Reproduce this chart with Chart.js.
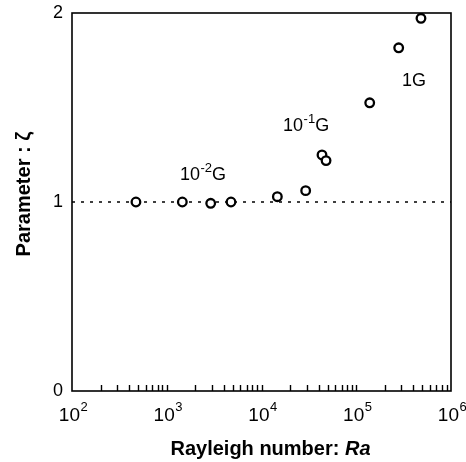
<!DOCTYPE html>
<html>
<head>
<meta charset="utf-8">
<script src="https://cdn.jsdelivr.net/npm/chart.js@4.4.1/dist/chart.umd.min.js"></script>
<style>
html,body{margin:0;padding:0;background:#fff;}
#wrap{width:466px;height:462px;}
</style>
</head>
<body>
<div id="wrap"><canvas id="c" width="466" height="462"></canvas></div>
<script>
// ---- data ----
const rayleigh = [473, 1460, 2910, 4765, 14700, 29250, 43500, 48000, 138700, 280500, 482000];
const zeta     = [1.00, 1.00, 0.993, 1.00, 1.028, 1.06, 1.249, 1.219, 1.525, 1.816, 1.972];
const refLineX = [100, 1000000];
const refLineY = [1, 1];
const xTickValues = [100, 1000, 10000, 100000, 1000000];
const xTickExponents = ['2', '3', '4', '5', '6'];
const yTickValues = [0, 1, 2];
const minorTickValues = [
  200,300,400,500,600,700,800,900,1000,
  2000,3000,4000,5000,6000,7000,8000,9000,10000,
  20000,30000,40000,50000,60000,70000,80000,90000,100000,
  200000,300000,400000,500000,600000,700000,800000,900000
];
const labelTexts = [['10','-2','G'], ['10','-1','G'], ['1G','','']];
const labelX = [1380, 16900, 304000];
const labelY = [1.116, 1.376, 1.614];
const xTitle = 'Rayleigh number: ';
const xTitleItalic = 'Ra';
const yTitle = 'Parameter : ζ';

const FONT = "'Liberation Sans', Arial, Helvetica, sans-serif";

const decorPlugin = {
  id: 'decor',
  afterDatasetsDraw(chart) {
    const ctx = chart.ctx;
    const a = chart.chartArea;
    const xs = chart.scales.x, ys = chart.scales.y;
    ctx.save();
    // frame
    ctx.strokeStyle = '#000';
    ctx.lineWidth = 1.6;
    ctx.strokeRect(a.left, a.top, a.right - a.left, a.bottom - a.top);
    // inner minor ticks along bottom
    ctx.lineWidth = 1.4;
    ctx.beginPath();
    minorTickValues.forEach(v => {
      const px = Math.round(xs.getPixelForValue(v)) + 0.5;
      ctx.moveTo(px, a.bottom);
      ctx.lineTo(px, a.bottom - 6);
    });
    ctx.stroke();
    // x tick labels with superscript exponents
    ctx.fillStyle = '#000';
    ctx.textBaseline = 'alphabetic';
    ctx.textAlign = 'left';
    xTickValues.forEach((v, i) => {
      const px = xs.getPixelForValue(v);
      ctx.font = '19px ' + FONT;
      const wb = ctx.measureText('10').width;
      ctx.font = '13px ' + FONT;
      const ws = ctx.measureText(xTickExponents[i]).width;
      const x0 = px - (wb + ws) / 2 + 1;
      const base = a.bottom + 30;
      ctx.font = '19px ' + FONT;
      ctx.fillText('10', x0, base);
      ctx.font = '13px ' + FONT;
      ctx.fillText(xTickExponents[i], x0 + wb + 0.5, base - 10);
    });
    // annotations
    labelTexts.forEach((t, i) => {
      let x = xs.getPixelForValue(labelX[i]);
      const y = ys.getPixelForValue(labelY[i]);
      ctx.font = '18px ' + FONT;
      ctx.fillText(t[0], x, y);
      x += ctx.measureText(t[0]).width;
      if (t[1]) {
        ctx.font = '13px ' + FONT;
        ctx.fillText(t[1], x + 0.5, y - 8);
        x += ctx.measureText(t[1]).width + 0.5;
      }
      if (t[2]) {
        ctx.font = '18px ' + FONT;
        ctx.fillText(t[2], x, y);
      }
    });
    // x title
    ctx.font = 'bold 20px ' + FONT;
    const w1 = ctx.measureText(xTitle).width;
    ctx.font = 'italic bold 20px ' + FONT;
    const w2 = ctx.measureText(xTitleItalic).width;
    const cx = (a.left + a.right) / 2 + 9;
    const tx = cx - (w1 + w2) / 2;
    const ty = a.bottom + 64;
    ctx.font = 'bold 20px ' + FONT;
    ctx.fillText(xTitle, tx, ty);
    ctx.font = 'italic bold 20px ' + FONT;
    ctx.fillText(xTitleItalic, tx + w1, ty);
    // y title
    ctx.translate(a.left - 42, (a.top + a.bottom) / 2 - 8);
    ctx.rotate(-Math.PI / 2);
    ctx.textAlign = 'center';
    ctx.font = 'bold 20px ' + FONT;
    ctx.fillText(yTitle, 0, 0);
    ctx.restore();
  }
};

new Chart(document.getElementById('c'), {
  type: 'scatter',
  data: {
    datasets: [
      {
        label: 'zeta',
        data: rayleigh.map((r, i) => ({x: r, y: zeta[i]})),
        pointRadius: 4.3,
        pointBorderWidth: 2.3,
        pointBackgroundColor: '#fff',
        pointBorderColor: '#000',
        showLine: false
      },
      {
        label: 'ref',
        type: 'line',
        data: refLineX.map((r, i) => ({x: r, y: refLineY[i]})),
        borderColor: '#000',
        borderWidth: 1.6,
        borderDash: [3, 6],
        pointRadius: 0,
        fill: false
      }
    ]
  },
  options: {
    responsive: false,
    animation: false,
    events: [],
    layout: { padding: { top: 13, right: 15, left: 0, bottom: 0 } },
    plugins: { legend: { display: false }, tooltip: { enabled: false } },
    scales: {
      x: {
        type: 'logarithmic',
        min: 100,
        max: 1000000,
        grid: { display: false },
        border: { display: false },
        ticks: { display: false },
        afterFit(s) { s.height = 71; s.paddingLeft = 0; s.paddingRight = 0; }
      },
      y: {
        min: 0,
        max: 2,
        afterBuildTicks(s) { s.ticks = yTickValues.map(v => ({value: v})); },
        grid: { display: false, drawTicks: false },
        border: { display: false },
        ticks: {
          padding: 9,
          color: '#000',
          font: { family: FONT, size: 18 }
        },
        afterFit(s) { s.width = 72; s.paddingTop = 0; s.paddingBottom = 0; }
      }
    }
  },
  plugins: [decorPlugin]
});
</script>
</body>
</html>
